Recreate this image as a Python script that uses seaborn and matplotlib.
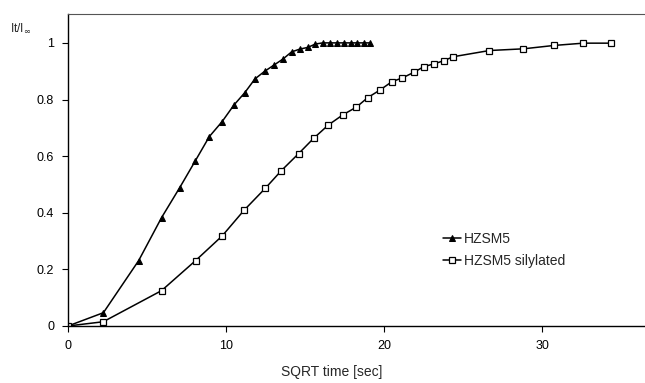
import seaborn as sns
import matplotlib.pyplot as plt
import pandas as pd

# HZSM5 (filled triangles)
hz_x = [0, 2.24, 4.47, 5.92, 7.07, 8.06, 8.94, 9.75, 10.49, 11.18, 11.83, 12.45, 13.04,
        13.60, 14.14, 14.66, 15.17, 15.65, 16.12, 16.58, 17.03, 17.46, 17.89, 18.30, 18.71, 19.10]
hz_y = [0, 0.047, 0.231, 0.383, 0.489, 0.584, 0.669, 0.722, 0.780, 0.824, 0.873, 0.900, 0.922,
        0.943, 0.968, 0.978, 0.984, 0.996, 1.0, 1.0, 1.0, 1.0, 1.0, 1.0, 1.0, 1.0]

# HZSM5 silylated (open squares)
sil_x = [0, 2.23, 5.92, 8.07, 9.75, 11.14, 12.49, 13.50, 14.59, 15.54, 16.47, 17.39, 18.24,
         18.97, 19.75, 20.49, 21.14, 21.88, 22.51, 23.16, 23.77, 24.36, 26.66, 28.81, 30.76,
         32.60, 34.35]
sil_y = [0, 0.015, 0.125, 0.231, 0.318, 0.409, 0.487, 0.549, 0.609, 0.663, 0.710, 0.746, 0.773,
         0.807, 0.834, 0.863, 0.876, 0.896, 0.916, 0.926, 0.937, 0.951, 0.973, 0.979, 0.991,
         0.999, 0.999]

x_ticks = [0, 10, 20, 30]
y_ticks = [0, 0.2, 0.4, 0.6, 0.8, 1.0]
y_tick_labels = ["0", "0.2", "0.4", "0.6", "0.8", "1"]

sns.set_style("white")
plt.rcParams['font.family'] = ['Liberation Sans', 'DejaVu Sans']

df_hz = pd.DataFrame({"x": hz_x, "y": hz_y})
df_sil = pd.DataFrame({"x": sil_x, "y": sil_y})

fig = plt.figure(figsize=(6.45, 3.83), dpi=100)
ax = fig.add_axes([68 / 645, 1 - 326 / 383, 1 - 68 / 645, (326 - 14) / 383])

sns.lineplot(data=df_hz, x="x", y="y", ax=ax, color="black", lw=1.1, sort=False,
             marker="^", markersize=4, markerfacecolor="black", markeredgecolor="black",
             label="HZSM5")
sns.lineplot(data=df_sil, x="x", y="y", ax=ax, color="black", lw=1.1, sort=False,
             marker="s", markersize=4, markerfacecolor="white", markeredgecolor="black",
             markeredgewidth=0.9, label="HZSM5 silylated")

ax.set_xlim(0, 36.5)
ax.set_ylim(0, 1.102)
ax.set_xticks(x_ticks)
ax.set_xticklabels([str(t) for t in x_ticks])
ax.set_yticks(y_ticks)
ax.set_yticklabels(y_tick_labels)
ax.tick_params(direction="out", length=4, width=0.8, labelsize=9, colors="black", pad=6,
               left=True, bottom=True)
ax.set_xlabel("")
ax.set_ylabel("")

for side in ["left", "bottom"]:
    ax.spines[side].set_color("black")
    ax.spines[side].set_linewidth(1.0)
ax.spines["top"].set_color("#555555")
ax.spines["top"].set_linewidth(0.8)
ax.spines["right"].set_visible(False)

fig.text(10 / 645, 1 - 28 / 383, r"It/I$_\infty$", fontsize=8.5, va="center", ha="left")
fig.text(332 / 645, 1 - 372 / 383, "SQRT time [sec]", fontsize=10, ha="center", va="center")

ax.legend(loc="upper left", bbox_to_anchor=(436 / 645, 1 - 225 / 383),
          bbox_transform=fig.transFigure, frameon=False, fontsize=10,
          handlelength=1.3, handletextpad=0.2, labelspacing=0.55, borderpad=0)

fig.savefig("out.png", dpi=100)
